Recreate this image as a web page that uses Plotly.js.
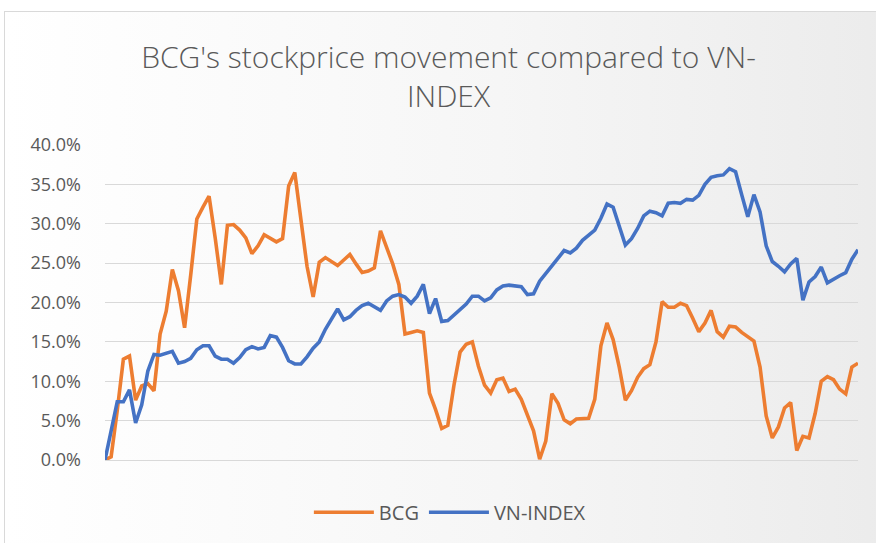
<!DOCTYPE html>
<html>
<head>
<meta charset="utf-8">
<script src="https://cdn.plot.ly/plotly-3.0.1.min.js"></script>
<style>
  html, body { margin:0; padding:0; width:876px; height:543px; overflow:hidden; background:#ffffff; }
  #frame { position:absolute; left:4px; top:11px; width:900px; height:560px; border:1px solid #d9d9d9;
           background:linear-gradient(to right, #ffffff 0%, #f6f6f6 55%, #ebebeb 100%); }
  #chart { position:absolute; left:0; top:0; width:876px; height:543px; }
</style>
</head>
<body>
<div id="frame"></div>
<div id="chart"></div>
<script>
// Cumulative % change from start (sampled per period)
const seriesNames = ["BCG", "VN-INDEX"];
const bcg = [0,0.4,6.3,12.8,13.2,7.6,9.4,9.7,8.8,16.0,18.9,24.2,21.5,16.8,23.5,30.6,32.1,33.5,28.2,22.3,
  29.8,29.9,29.2,28.2,26.2,27.2,28.6,28.2,27.7,28.1,34.8,36.5,30.1,24.6,20.7,25.1,25.7,25.2,24.7,25.4,
  26.1,24.9,23.8,24.0,24.4,29.1,27.0,24.9,22.3,16.0,16.2,16.4,16.2,8.5,6.4,4.0,4.4,9.5,13.7,14.7,
  15.0,11.9,9.5,8.5,10.2,10.4,8.7,9.0,7.7,5.8,3.7,0.1,2.4,8.4,7.2,5.1,4.6,5.2,5.3,5.3,
  7.7,14.5,17.4,15.3,11.8,7.6,8.8,10.5,11.6,12.1,15.0,20.1,19.4,19.4,19.9,19.6,18.0,16.3,17.4,19.0,
  16.3,15.6,17.0,16.9,16.2,15.7,15.1,11.8,5.6,2.8,4.2,6.6,7.3,1.2,3.0,2.8,5.9,10.0,10.6,10.2,
  9.0,8.4,11.8,12.3];
const vnindex = [0,3.9,7.4,7.4,8.9,4.7,7.0,11.3,13.4,13.3,13.5,13.8,12.3,12.5,12.9,14.0,14.5,14.5,13.2,12.8,
  12.8,12.3,13.0,14.0,14.4,14.1,14.3,15.8,15.6,14.3,12.6,12.2,12.2,13.1,14.2,15.0,16.6,17.9,19.2,17.8,
  18.2,19.0,19.6,19.9,19.4,19.0,20.2,20.8,21.0,20.7,19.9,20.8,22.3,18.6,20.5,17.6,17.7,18.4,19.2,19.8,
  20.8,20.8,20.2,20.6,21.6,22.1,22.2,22.1,22.0,21.0,21.1,22.7,23.7,24.7,25.7,26.6,26.3,26.9,27.9,28.5,
  29.2,30.7,32.5,32.1,29.6,27.3,28.1,29.4,31.0,31.6,31.4,31.0,32.6,32.7,32.6,33.1,33.0,33.6,35.0,35.9,
  36.1,36.2,37.0,36.6,33.7,30.9,33.7,31.5,27.2,25.2,24.6,23.9,24.9,25.6,20.3,22.6,23.3,24.5,22.5,23.0,
  23.4,23.8,25.5,26.7];
const yTicks = [0,5,10,15,20,25,30,35,40];
const yTickLabels = ["0.0%","5.0%","10.0%","15.0%","20.0%","25.0%","30.0%","35.0%","40.0%"];
const chartTitle = "BCG's stockprice movement compared to VN-<br>INDEX";

const traces = [
  { y: bcg, name: seriesNames[0], type: "scatter", mode: "lines",
    line: { color: "#ED7D31", width: 3.6 } },
  { y: vnindex, name: seriesNames[1], type: "scatter", mode: "lines",
    line: { color: "#4472C4", width: 3.6 } }
];

const layout = {
  width: 876, height: 543,
  paper_bgcolor: "rgba(0,0,0,0)", plot_bgcolor: "rgba(0,0,0,0)",
  margin: { l: 105, r: 18, t: 145, b: 82 },
  font: { family: "Open Sans, sans-serif", color: "#595959" },
  title: { text: chartTitle, font: { size: 30, color: "#595959", family: "Open Sans, sans-serif", weight: 300 },
           xref: "container", yref: "container", x: 0.512, xanchor: "center", y: 0.874, yanchor: "middle" },
  xaxis: { range: [0, bcg.length - 1], showgrid: false, zeroline: false, showticklabels: false,
           showline: false, ticks: "", fixedrange: true },
  yaxis: { range: [0, 40], tickmode: "array", tickvals: yTicks, ticktext: yTickLabels,
           showgrid: true, gridcolor: "#d9d9d9", gridwidth: 1, zeroline: true, zerolinecolor: "#d9d9d9",
           zerolinewidth: 1, showline: false, ticks: "", ticklabelstandoff: 23,
           tickfont: { size: 18, color: "#595959" } },
  showlegend: true,
  legend: { orientation: "h", x: 0.458, xanchor: "center", y: -0.162, yanchor: "middle",
            font: { size: 20, color: "#595959" }, itemwidth: 60, bgcolor: "rgba(0,0,0,0)" }
};

Plotly.newPlot("chart", traces, layout, { staticPlot: true, displayModeBar: false });
</script>
</body>
</html>
